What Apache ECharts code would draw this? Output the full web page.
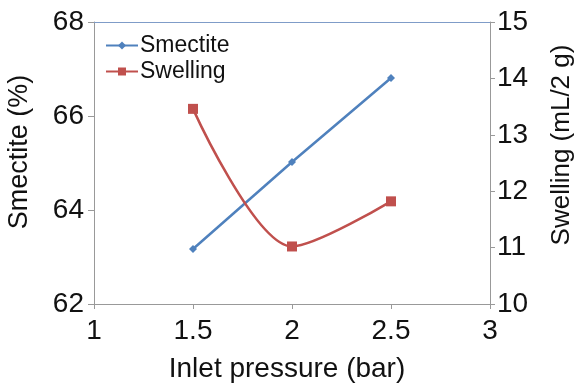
<!DOCTYPE html>
<html><head><meta charset="utf-8">
<script src="https://cdn.jsdelivr.net/npm/echarts@6/dist/echarts.min.js"></script>
<style>html,body{margin:0;padding:0;background:#fff}#c{width:579px;height:385px}</style>
</head><body><div id="c"></div>
<script>
const pressure = [1.5, 2, 2.5];
const smectite = [63.17, 65.02, 66.81];
const swelling = [13.46, 11.02, 11.82];
const xTicks = [1, 1.5, 2, 2.5, 3];

const chart = echarts.init(document.getElementById('c'));
const F = 'Arial, "Liberation Sans", sans-serif';
chart.setOption({
  animation: false,
  backgroundColor: '#fff',
  grid: {left: 94, right: 89, top: 22, bottom: 81, containLabel: false, outerBoundsMode: 'none'},
  legend: {
    left: 100, top: 29, orient: 'vertical', itemGap: 3, itemWidth: 32, itemHeight: 10,
    textStyle: {fontFamily: F, fontSize: 23, color: '#111', padding: [0, 0, 0, -3]},
    data: ['Smectite', 'Swelling']
  },
  xAxis: [{
    type: 'value', min: 1, max: 3, interval: 0.5,
    name: 'Inlet pressure (bar)', nameLocation: 'middle', nameGap: 51,
    nameTextStyle: {fontFamily: F, fontSize: 28, color: '#111', padding: [0, 10, 0, 0]},
    axisLine: {lineStyle: {color: '#999', width: 1}},
    axisTick: {show: true, length: 5, lineStyle: {color: '#999'}},
    axisLabel: {fontFamily: F, fontSize: 28, color: '#111', margin: 13,
      formatter: v => xTicks.includes(v) ? String(v) : ''},
    splitLine: {show: false}
  }, {
    type: 'value', min: 1, max: 3, position: 'top',
    axisLine: {lineStyle: {color: '#7f9cc8', width: 1}},
    axisTick: {show: false}, axisLabel: {show: false}, splitLine: {show: false}
  }],
  yAxis: [{
    type: 'value', min: 62, max: 68, interval: 2,
    name: 'Smectite (%)', nameLocation: 'middle', nameGap: 61, nameRotate: 90,
    nameTextStyle: {fontFamily: F, fontSize: 27, color: '#111', padding: [0, 0, 0, 22]},
    axisLine: {show: true, lineStyle: {color: '#999'}},
    axisTick: {show: true, length: 6, lineStyle: {color: '#999'}},
    axisLabel: {fontFamily: F, fontSize: 28, color: '#111', margin: 10},
    splitLine: {show: false}
  }, {
    type: 'value', min: 10, max: 15, interval: 1, position: 'right',
    name: 'Swelling (mL/2 g)', nameLocation: 'middle', nameGap: 59, nameRotate: 90,
    nameTextStyle: {fontFamily: F, fontSize: 26, color: '#111', padding: [0, 0, 0, 36]},
    axisLine: {show: true, lineStyle: {color: '#999'}},
    axisTick: {show: true, length: 5, lineStyle: {color: '#999'}},
    axisLabel: {fontFamily: F, fontSize: 28, color: '#111', margin: 7},
    splitLine: {show: false}
  }],
  series: [{
    name: 'Smectite', type: 'line', yAxisIndex: 0,
    data: pressure.map((x, i) => [x, smectite[i]]),
    symbol: 'diamond', symbolSize: 8,
    lineStyle: {color: '#4F81BD', width: 2.5},
    itemStyle: {color: '#4F81BD'}
  }, {
    name: 'Swelling', type: 'line', yAxisIndex: 1,
    data: pressure.map((x, i) => [x, swelling[i]]),
    symbol: 'rect', symbolSize: 10, smooth: 0.3,
    lineStyle: {color: '#C0504D', width: 2.5},
    itemStyle: {color: '#C0504D'}
  }]
});
</script></body></html>
